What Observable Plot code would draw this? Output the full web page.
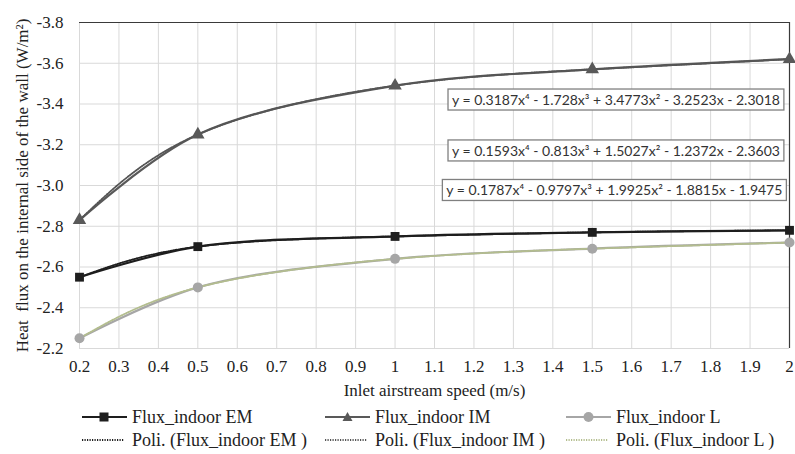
<!DOCTYPE html>
<html><head><meta charset="utf-8">
<script src="https://cdn.jsdelivr.net/npm/d3@7"></script>
<script src="https://cdn.jsdelivr.net/npm/@observablehq/plot@0.6"></script>
<style>
#wrap, #wrap div, #wrap span, #wrap svg, #wrap g, #wrap text { font-family: 'Liberation Serif', 'Times New Roman', serif !important; }
#wrap g[aria-label="text"] text { font-family: 'Lato', sans-serif !important; }
#wrap g[aria-label$="tick label"] text, #wrap g[aria-label$="axis label"] text { font-size: 17px !important; }
</style>
</head><body style="margin:0;background:#fff">
<div id="wrap" style="position:relative;width:795px;height:454px;overflow:hidden"></div>
<script>
// ---- data ----
const speeds = [0.2, 0.5, 1, 1.5, 2];
const fluxEM = [-2.55, -2.70, -2.75, -2.77, -2.78];
const fluxIM = [-2.83, -3.25, -3.49, -3.57, -3.62];
const fluxL  = [-2.25, -2.50, -2.64, -2.69, -2.72];
const seriesNames = ["Flux_indoor EM", "Flux_indoor IM", "Flux_indoor L"];
const trendNames = ["Poli. (Flux_indoor EM )", "Poli. (Flux_indoor IM )", "Poli. (Flux_indoor L )"];
const equations = [
  "y = 0.3187x⁴ - 1.728x³ + 3.4773x² - 3.2523x - 2.3018",
  "y = 0.1593x⁴ - 0.813x³ + 1.5027x² - 1.2372x - 2.3603",
  "y = 0.1787x⁴ - 0.9797x³ + 1.9925x² - 1.8815x - 1.9475"
];
const xTicks = [0.2, 0.3, 0.4, 0.5, 0.6, 0.7, 0.8, 0.9, 1, 1.1, 1.2, 1.3, 1.4, 1.5, 1.6, 1.7, 1.8, 1.9, 2];
const yTicks = [-2.2, -2.4, -2.6, -2.8, -3.0, -3.2, -3.4, -3.6, -3.8];
const xLabel = "Inlet airstream speed (m/s)";
const yLabel = "Heat  flux on the internal side of the wall (W/m²)";

// ---- layout / style (not data) ----
const eqAnchor = [[1.56, -3.417], [1.56, -3.167], [1.556, -2.973]];
const colors = {EM: "#1e1e1e", IM: "#595959", L: "#a6a6a6"};
const trendColors = {EM: "#1e1e1e", IM: "#555555", L: "#b3bd8e"};
const symbols = {EM: "square", IM: "triangle", L: "circle"};
const serif = "Liberation Serif";

const keys = ["EM", "IM", "L"];
const values = {EM: fluxEM, IM: fluxIM, L: fluxL};
const rows = keys.flatMap(k => speeds.map((s, i) => ({key: k, x: s, y: values[k][i]})));
const eqRows = equations.map((t, i) => ({t, x: eqAnchor[i][0], y: eqAnchor[i][1]}));

const marks = [
  Plot.gridX(xTicks, {stroke: "#d9d9d9", strokeOpacity: 1}),
  Plot.gridY(yTicks, {stroke: "#d9d9d9", strokeOpacity: 1}),
  Plot.ruleY([yTicks[yTicks.length - 1]], {stroke: "#3a3a3a", strokeWidth: 1.2}),
  Plot.ruleX([xTicks[xTicks.length - 1]], {stroke: "#3a3a3a", strokeWidth: 1.2}),
  Plot.axisX(xTicks, {tickSize: 0, tickPadding: 11, fontSize: 17, fontFamily: serif, tickFormat: d => `${d}`, label: xLabel, labelAnchor: "center", labelArrow: "none", labelOffset: 47}),
  Plot.axisY(yTicks, {tickSize: 0, tickPadding: 16, fontSize: 17, fontFamily: serif, tickFormat: d => d.toFixed(1), label: yLabel, labelAnchor: "center", labelArrow: "none", labelOffset: 64})
];
for (const k of keys) {
  const d = rows.filter(r => r.key === k);
  marks.push(Plot.line(d, {x: "x", y: "y", curve: "catmull-rom", stroke: colors[k], strokeWidth: 2.2}));
}
for (const k of keys) {
  const d = rows.filter(r => r.key === k);
  marks.push(Plot.line(d, {x: "x", y: "y", curve: "natural", stroke: trendColors[k], strokeWidth: 1.8, strokeDasharray: "1.2,1.3"}));
  marks.push(Plot.dot(d, {x: "x", y: "y", symbol: () => symbols[k], r: 5, fill: colors[k], stroke: "none"}));
}
marks.push(Plot.text(eqRows, {x: "x", y: "y", text: "t", fontFamily: "Lato", fontSize: 14, fill: "#333"}));

const chart = Plot.plot({
  width: 795, height: 402,
  marginLeft: 79, marginRight: 6, marginTop: 22, marginBottom: 54,
  x: {domain: [0.2, 2]},
  y: {domain: [-2.2, -3.8]},
  style: {fontFamily: serif, fontSize: "17px", color: "#222", background: "#fff"},
  marks
});
const wrap = document.getElementById("wrap");
wrap.appendChild(chart);

// boxes behind equations
d3.select(chart).selectAll('g[aria-label="text"] text').each(function() {
  const b = this.getBBox();
  d3.select(this.parentNode).insert("rect", () => this)
    .attr("x", b.x - 4).attr("y", b.y - 2).attr("width", b.width + 8).attr("height", b.height + 4)
    .attr("fill", "#fff").attr("stroke", "#808080").attr("stroke-width", 1.3)
    .attr("transform", this.getAttribute("transform"));
});

// legend
const legCols = [82, 325, 566];
const legRows = [406, 429];
function sym(k, trend) {
  const w = 45, h = 14;
  let s = `<svg width="${w}" height="${h}" style="margin-right:5px">`;
  if (trend) {
    s += `<line x1="0" y1="7" x2="42" y2="7" stroke="${trendColors[k]}" stroke-width="1.8" stroke-dasharray="1.2,1.3"/>`;
  } else {
    s += `<line x1="0" y1="7" x2="45" y2="7" stroke="${colors[k]}" stroke-width="2.2"/>`;
    if (k === "EM") s += `<rect x="17.5" y="2.5" width="9" height="9" fill="${colors[k]}"/>`;
    if (k === "IM") s += `<path d="M22.5,2 L27.5,11 L17.5,11 Z" fill="${colors[k]}"/>`;
    if (k === "L") s += `<circle cx="22.5" cy="7" r="5" fill="${colors[k]}"/>`;
  }
  return s + "</svg>";
}
keys.forEach((k, i) => {
  [[seriesNames[i], false], [trendNames[i], true]].forEach(([name, trend], r) => {
    const div = document.createElement("div");
    div.style.cssText = `position:absolute;left:${legCols[i]}px;top:${legRows[r]}px;display:flex;align-items:center;height:22px;white-space:nowrap;font-size:18px;color:#222`;
    div.innerHTML = sym(k, trend) + `<span>${name}</span>`;
    wrap.appendChild(div);
  });
});
</script></body></html>
